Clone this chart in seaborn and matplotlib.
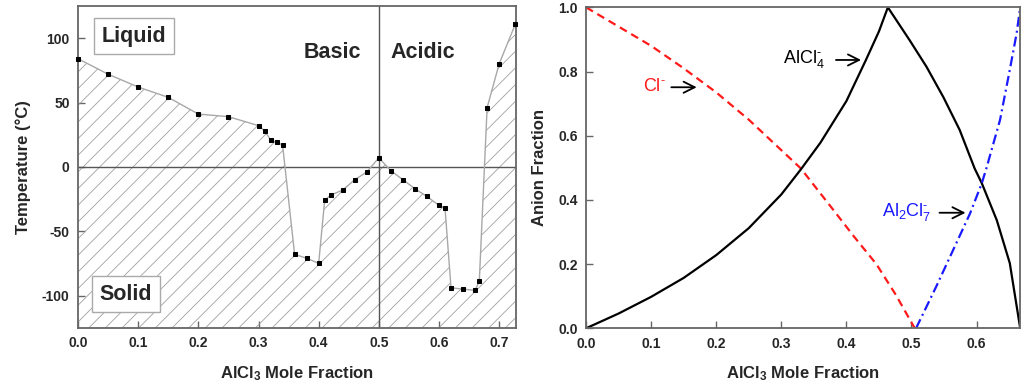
import matplotlib
matplotlib.use("Agg")
import matplotlib.pyplot as plt
import seaborn as sns

# Left panel: melting points of the AlCl3 mixture vs mole fraction
mole_frac = [0.0, 0.05, 0.10, 0.15, 0.20, 0.25, 0.30, 0.31, 0.32, 0.33, 0.34,
             0.36, 0.38, 0.40, 0.41, 0.42, 0.44, 0.46, 0.48, 0.50, 0.52, 0.54,
             0.56, 0.58, 0.60, 0.61, 0.62, 0.64, 0.66, 0.667, 0.68, 0.70, 0.727]
temp_c = [84, 72, 62, 54, 41, 39, 32, 28, 21, 19, 17,
          -68, -71, -75, -26, -22, -18, -10, -4, 7, -3, -10,
          -17, -23, -30, -32, -94, -95, -96, -89, 46, 80, 111]

# Right panel: anion fractions
x_cl = [0.0, 0.05, 0.10, 0.15, 0.20, 0.25, 0.30, 0.33, 0.376, 0.412, 0.446, 0.476, 0.505]
y_cl = [1.0, 0.94, 0.88, 0.81, 0.735, 0.65, 0.555, 0.498, 0.379, 0.285, 0.20, 0.104, 0.0]

x_alcl4 = [0.0, 0.05, 0.10, 0.15, 0.20, 0.25, 0.30, 0.33, 0.36, 0.40, 0.43, 0.45, 0.4637,
           0.497, 0.523, 0.549, 0.574, 0.597, 0.608, 0.631, 0.651, 0.667]
y_alcl4 = [0.0, 0.046, 0.098, 0.157, 0.228, 0.312, 0.417, 0.495, 0.578, 0.708, 0.836, 0.925, 1.0,
           0.898, 0.815, 0.72, 0.618, 0.498, 0.452, 0.337, 0.203, 0.0]

x_al2cl7 = [0.507, 0.538, 0.564, 0.590, 0.608, 0.615, 0.636, 0.651, 0.6615, 0.667]
y_al2cl7 = [0.0, 0.13, 0.244, 0.358, 0.452, 0.498, 0.649, 0.805, 0.919, 1.0]

sns.set_theme(style="ticks")
plt.rcParams['font.family'] = ['Liberation Sans', 'DejaVu Sans']
plt.rcParams['mathtext.default'] = 'regular'
plt.rcParams['axes.unicode_minus'] = False
plt.rcParams['hatch.linewidth'] = 0.6

spine_col = '#666666'

fig = plt.figure(figsize=(10.24, 3.86), dpi=100)
ax1 = fig.add_axes([0.0762, 0.151, 0.4277, 0.8335])
ax2 = fig.add_axes([0.5723, 0.1495, 0.4238, 0.8315])

# ---- left panel ----
ax1.fill_between(mole_frac, temp_c, -125, facecolor='none', hatch='//',
                 edgecolor='#a0a0a0', linewidth=0)
sns.lineplot(x=mole_frac, y=temp_c, ax=ax1, sort=False, estimator=None,
             color='#a8a8a8', lw=1, marker='s', markersize=3.2,
             markerfacecolor='black', markeredgecolor='black', clip_on=False, zorder=3)
ax1.axhline(0, color='#555555', lw=1)
ax1.axvline(0.5, color='#555555', lw=1)
ax1.set_xlim(0, 0.728)
ax1.set_ylim(-125, 125)
ax1.set_xticks([0.0, 0.1, 0.2, 0.3, 0.4, 0.5, 0.6, 0.7])
ax1.set_yticks([-100, -50, 0, 50, 100])
ax1.set_xticklabels([f"{v:.1f}" for v in ax1.get_xticks()])
ax1.set_xlabel(r"AlCl$_3$ Mole Fraction", fontsize=12, fontweight='bold', labelpad=10)
ax1.set_ylabel("Temperature (°C)", fontsize=12, fontweight='bold', labelpad=8)

box = dict(boxstyle='square,pad=0.35', facecolor='white', edgecolor='#aaaaaa', lw=1)
ax1.text(0.093, 101.5, "Liquid", fontsize=15.5, fontweight='bold', ha='center', va='center', bbox=box, zorder=4)
ax1.text(0.080, -99, "Solid", fontsize=15.5, fontweight='bold', ha='center', va='center', bbox=box, zorder=4)
ax1.text(0.4226, 88.5, "Basic", fontsize=15.5, fontweight='bold', ha='center', va='center')
ax1.text(0.573, 88.5, "Acidic", fontsize=15.5, fontweight='bold', ha='center', va='center')

# ---- right panel ----
sns.lineplot(x=x_cl, y=y_cl, ax=ax2, sort=False, estimator=None, color='#ff1a1a', lw=1.6)
ax2.lines[-1].set_dashes([3.6, 2.3])
sns.lineplot(x=x_alcl4, y=y_alcl4, ax=ax2, sort=False, estimator=None, color='black', lw=1.6)
sns.lineplot(x=x_al2cl7, y=y_al2cl7, ax=ax2, sort=False, estimator=None, color='#1a1aff', lw=1.6)
ax2.lines[-1].set_dashes([4.5, 1.8, 0.9, 1.8])
ax2.set_xlim(0, 0.6667)
ax2.set_ylim(0, 1.0)
ax2.set_xticks([0.0, 0.1, 0.2, 0.3, 0.4, 0.5, 0.6])
ax2.set_yticks([0.0, 0.2, 0.4, 0.6, 0.8, 1.0])
ax2.set_xticklabels([f"{v:.1f}" for v in ax2.get_xticks()])
ax2.set_yticklabels([f"{v:.1f}" for v in ax2.get_yticks()])
ax2.set_xlabel(r"AlCl$_3$ Mole Fraction", fontsize=12, fontweight='bold', labelpad=10)
ax2.set_ylabel("Anion Fraction", fontsize=12, fontweight='bold', labelpad=8)

arrow = dict(arrowstyle='->', lw=1.3, color='black', mutation_scale=20,
             shrinkA=0, shrinkB=0)
ax2.text(0.302, 0.838, "AlCl$_4^{\u2010}$", fontsize=13, color='black', va='center')
ax2.annotate("", xy=(0.4225, 0.836), xytext=(0.384, 0.836), arrowprops=arrow)
ax2.text(0.088, 0.752, "Cl$^{\u2010}$", fontsize=13, color='#ff1a1a', va='center')
ax2.annotate("", xy=(0.170, 0.751), xytext=(0.131, 0.751), arrowprops=arrow)
ax2.text(0.455, 0.362, "Al$_2$Cl$_7^{\u2010}$", fontsize=13, color='#1a1aff', va='center')
ax2.annotate("", xy=(0.583, 0.360), xytext=(0.543, 0.360), arrowprops=arrow)

for ax in (ax1, ax2):
    for s in ax.spines.values():
        s.set_visible(True)
        s.set_color(spine_col)
        s.set_linewidth(1.3)
    ax.tick_params(direction='in', length=5, width=1, color=spine_col, labelsize=10, pad=6)
    for lab in ax.get_xticklabels() + ax.get_yticklabels():
        lab.set_fontweight('bold')

fig.savefig("out.png", dpi=100)
